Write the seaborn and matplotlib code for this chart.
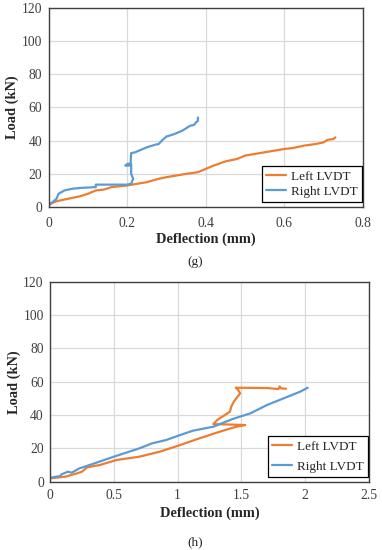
import pandas as pd
import matplotlib
matplotlib.use('Agg')
import matplotlib.pyplot as plt
import matplotlib.ticker as tkr
import seaborn as sns

# (g) specimen
g_left_x = [0, 0.01, 0.02, 0.05, 0.08, 0.10, 0.12, 0.14, 0.16, 0.20, 0.25, 0.28, 0.30, 0.35,
            0.38, 0.40, 0.42, 0.45, 0.48, 0.50, 0.55, 0.60, 0.62, 0.65, 0.68, 0.70, 0.71, 0.725, 0.73]
g_left_y = [1, 2.5, 3.5, 5, 6.5, 8, 10, 10.5, 12, 13, 15, 17, 18, 20,
            21, 23, 25, 27.5, 29, 31, 33, 35, 35.5, 37, 38, 39, 40.5, 41, 42]
g_right_x = [0, 0.01, 0.02, 0.025, 0.04, 0.06, 0.08, 0.12, 0.12, 0.20, 0.21, 0.215, 0.21, 0.21,
             0.20, 0.195, 0.208, 0.21, 0.22, 0.24, 0.25, 0.27, 0.28, 0.29, 0.30, 0.32, 0.34,
             0.35, 0.36, 0.37, 0.375, 0.38, 0.38]
g_right_y = [1.5, 3, 5, 8, 10, 11, 11.5, 12, 13.5, 13.5, 14, 17, 20, 26,
             26, 25, 25, 32.5, 33, 35, 36, 37.5, 38, 40.5, 42.5, 44, 46,
             47.5, 49, 49.5, 51, 52, 54]

# (h) specimen
h_left_x = [0, 0.12, 0.21, 0.25, 0.29, 0.39, 0.52, 0.70, 0.86, 1.02, 1.17, 1.33, 1.46, 1.53,
            1.28, 1.31, 1.37, 1.41, 1.42, 1.44, 1.46, 1.49, 1.475, 1.455, 1.70, 1.79, 1.80, 1.81, 1.85]
h_left_y = [2, 3, 5, 6, 8.6, 10, 13, 15, 18, 22, 26, 30, 33, 34,
            34.6, 37, 40, 42, 45, 48, 50, 53, 55, 56.4, 56.2, 55.6, 57.2, 56, 55.8]
h_right_x = [0, 0.08, 0.09, 0.14, 0.17, 0.23, 0.31, 0.50, 0.70, 0.80, 0.91, 1.02, 1.12, 1.28,
             1.43, 1.57, 1.70, 1.83, 1.96, 2.02]
h_right_y = [2.4, 3.4, 4.4, 6, 5.4, 8, 10, 15, 20, 23, 25, 28, 30.6, 33,
             37.6, 41, 46, 50, 54, 56.4]

series_names = ['Left LVDT', 'Right LVDT']
colors = ['#ED7D31', '#5B9BD5']


def make_df(lx, ly, rx, ry):
    left = pd.DataFrame({'x': lx, 'y': ly, 'series': series_names[0]})
    right = pd.DataFrame({'x': rx, 'y': ry, 'series': series_names[1]})
    return pd.concat([left, right], axis=0, ignore_index=True)


sns.set_style('whitegrid')
plt.rcParams['font.family'] = ['Liberation Serif', 'DejaVu Serif']

fig = plt.figure(figsize=(3.82, 5.5), dpi=100)
ax_g = fig.add_axes([0.1275, 0.6236, 0.8225, 0.3619])
ax_h = fig.add_axes([0.131, 0.1242, 0.835, 0.3636])

# ax, data, xmax, xstep, tag, tag y (px from top), legend spacing, x tick pad, xlabel y
panels = [
    (ax_g, make_df(g_left_x, g_left_y, g_right_x, g_right_y), 0.8, 0.2, '(g)', 262, 0.25, 7.5, -0.162),
    (ax_h, make_df(h_left_x, h_left_y, h_right_x, h_right_y), 2.5, 0.5, '(h)', 542, 0.6, 5.5, -0.157),
]

for ax, df, xmax, xstep, tag, tag_y, lspace, xpad, xlab_y in panels:
    sns.lineplot(data=df, x='x', y='y', hue='series', palette=colors, sort=False,
                 estimator=None, linewidth=1.6, ax=ax)
    ax.set_xlim(0, xmax)
    ax.set_ylim(0, 120)
    ax.xaxis.set_major_locator(tkr.MultipleLocator(xstep))
    ax.yaxis.set_major_locator(tkr.MultipleLocator(20))
    ax.xaxis.set_major_formatter(tkr.FuncFormatter(lambda v, p: '{:g}'.format(round(v, 2))))
    ax.grid(True, color='#D9D9D9', linewidth=0.9)
    ax.tick_params(axis='both', labelsize=9.8, colors='#404040', length=0)
    ax.tick_params(axis='x', pad=xpad)
    ax.tick_params(axis='y', pad=4.5)
    for s in ax.spines.values():
        s.set_visible(True)
        s.set_color('#404040')
        s.set_linewidth(1.0)
    ax.set_xlabel('Deflection (mm)', fontsize=10.4, fontweight='bold', va='center')
    ax.xaxis.set_label_coords(0.5, xlab_y)
    ax.set_ylabel('Load (kN)', fontsize=10.4, fontweight='bold', labelpad=2)
    leg = ax.legend(loc='lower right', bbox_to_anchor=(0.997, 0.025), fontsize=9.5,
                    frameon=True, fancybox=False, edgecolor='black', framealpha=1,
                    handlelength=1.5, handletextpad=0.4, labelspacing=lspace,
                    borderpad=0.3, borderaxespad=0)
    leg.get_frame().set_linewidth(0.9)
    fig.text(0.51, 1 - tag_y / 550, tag, ha='center', va='center', fontsize=9.5)

plt.savefig('out.png', dpi=100)
